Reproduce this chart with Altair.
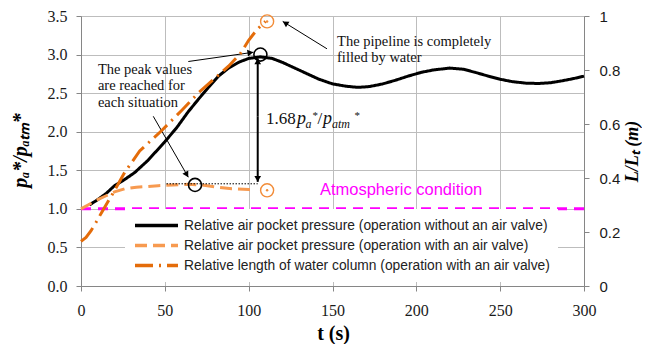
import math
import altair as alt
import pandas as pd

W, H = 503, 270
T_MAX, Y_MAX = 300.0, 3.5

# ---- series data ----
t_noav = [5, 10, 15, 20, 26, 32, 40, 50, 57, 64, 70, 76, 82, 88, 94, 100, 107, 114, 120, 130, 142,
          150, 158, 165, 172, 180, 188, 195, 203, 210, 220, 228, 235, 243, 250, 257, 265, 273, 280,
          287, 294, 300]
p_noav = [1.05, 1.12, 1.20, 1.30, 1.38, 1.47, 1.63, 1.87, 2.05, 2.26, 2.42, 2.575, 2.72, 2.825, 2.90,
          2.95, 2.97, 2.95, 2.90, 2.80, 2.68, 2.62, 2.59, 2.575, 2.585, 2.62, 2.67, 2.72, 2.77, 2.80,
          2.825, 2.81, 2.77, 2.72, 2.68, 2.65, 2.63, 2.625, 2.635, 2.66, 2.69, 2.72]

t_av = [0, 5, 10, 15, 20, 26, 33, 40, 46, 55, 64, 72, 82, 90, 100, 104]
p_av = [1.0, 1.06, 1.12, 1.17, 1.22, 1.26, 1.28, 1.29, 1.30, 1.31, 1.32, 1.31, 1.28, 1.26, 1.25, 1.245]

t_len = [0, 3, 6, 9, 13, 19, 26, 35, 48, 60, 70, 80, 88, 95, 100, 105, 110]
l_len = [0.165, 0.18, 0.205, 0.236, 0.28, 0.343, 0.42, 0.50, 0.575, 0.65, 0.715, 0.77, 0.814, 0.86,
         0.91, 0.95, 0.98]

t_atm = [0, 300]
p_atm = [1.0, 1.0]

names = [
    "Relative air pocket pressure (operation without an air valve)",
    "Relative air pocket pressure (operation with an air valve)",
    "Relative length of water column (operation with an air valve)",
]
colors = ["#000000", "#F79A50", "#E46C0A"]
dashes = [[1, 0], [12, 6], [18, 6, 2, 6]]

# markers
black_circ_t = [107, 68]
black_circ_v = [3.0, 1.31]
orange_circ_t = [111, 111]
orange_circ_v = [3.43, 1.24]

# arrows: (t1, v1) -> (t2, v2) with a head at (t2, v2)
arrow_t1 = [146.7, 64.0, 43.1, 105.4, 105.4]
arrow_v1 = [3.075, 2.91, 2.20, 2.20, 2.20]
arrow_t2 = [120.3, 102.8, 64.0, 105.4, 105.4]
arrow_v2 = [3.43, 3.03, 1.41, 2.95, 1.35]
arrow_w = [1, 1, 1, 2, 2]

dotted_t = [51, 105.4]
dotted_v = [1.325, 1.325]

pipe_text = ["The pipeline is completely", "filled by water"]
pipe_t = [152.7, 152.7]
pipe_v = [3.16, 2.95]

peak_text = ["The peak values", "are reached for", "each situation"]
peak_t = [10.1, 10.1, 10.1]
peak_v = [2.80, 2.59, 2.375]

atm_text = ["Atmospheric condition"]
atm_t = [142.5]
atm_v = [1.25]

ratio_t, ratio_v = 110.3, 2.094
ratio_parts = ["1.68", "p", "a", "*", "/", "p", "atm", "*"]

SERIF = "Liberation Serif"
SANS = "Liberation Sans"

# ---- frames ----
df_left = pd.concat([
    pd.DataFrame({"t": t_noav, "v": p_noav, "series": names[0]}),
    pd.DataFrame({"t": t_av, "v": p_av, "series": names[1]}),
])
df_right = pd.DataFrame({"t": t_len, "v": l_len, "series": names[2]})
df_atm = pd.DataFrame({"t": t_atm, "v": p_atm})


def px(t):
    return t * W / T_MAX


def py(v):
    return (Y_MAX - v) * H / Y_MAX


rows = []
for a, b, c, d, w in zip(arrow_t1, arrow_v1, arrow_t2, arrow_v2, arrow_w):
    dx = px(c) - px(a)
    dy = py(d) - py(b)
    ang = math.degrees(math.atan2(dx, -dy)) % 360
    L = math.hypot(dx, dy)
    back = 3.0
    hx = px(c) - dx / L * back
    hy = py(d) - dy / L * back
    rows.append({"t": a, "v": b, "t2": c, "v2": d, "w": w, "ang": ang,
                 "ht": hx * T_MAX / W, "hv": Y_MAX - hy * Y_MAX / H})
df_arrows = pd.DataFrame(rows)
df_heads = pd.DataFrame({"t": df_arrows["ht"], "v": df_arrows["hv"], "ang": df_arrows["ang"]})

X = alt.X("t:Q", scale=alt.Scale(domain=[0, 300], nice=False),
          axis=alt.Axis(values=[0, 50, 100, 150, 200, 250, 300], title="t (s)", grid=True,
                        labelFlush=False, labelOverlap=False,
                        labelFont=SERIF, labelFontSize=16, labelPadding=11, tickSize=5,
                        titleFont=SERIF, titleFontSize=20, titleFontWeight="bold",
                        titleX=252, titleY=47, titleBaseline="middle"))
YL = alt.Y("v:Q", scale=alt.Scale(domain=[0, 3.5], nice=False),
           axis=alt.Axis(values=[0, 0.5, 1, 1.5, 2, 2.5, 3, 3.5], format=".1f",
                         labelFlush=False, labelOverlap=False,
                         title="pₐ*/pₐₜₘ*", grid=True, labelFont=SERIF, labelFontSize=16,
                         labelPadding=9, tickSize=5, titleFont=SERIF, titleFontSize=20,
                         titleFontStyle="italic", titleFontWeight="bold", titleAngle=270,
                         titleX=-61, titleY=134, titleAlign="center", titleBaseline="middle"))
YR = alt.Y("v:Q", scale=alt.Scale(domain=[0, 1], nice=False),
           axis=alt.Axis(orient="right", values=[0, 0.2, 0.4, 0.6, 0.8, 1], format=".1~f",
                         labelFlush=False, labelOverlap=False,
                         title="L/Lₜ (m)", grid=False, labelFont=SANS, labelFontSize=15,
                         labelPadding=10, tickSize=5, titleFont=SERIF, titleFontSize=18,
                         titleFontStyle="italic", titleFontWeight="bold", titleAngle=270,
                         titleX=48, titleY=135, titleAlign="center", titleBaseline="middle"))

leg = alt.Legend(title=None, orient="none", legendX=44, legendY=193, symbolType="stroke",
                 symbolSize=1850, symbolStrokeWidth=3.5, clipHeight=17, rowPadding=3,
                 labelFont=SANS, labelFontSize=13.8, labelColor="#222222", labelLimit=600,
                 fillColor="white", padding=8, labelOffset=4)
COLOR = alt.Color("series:N", scale=alt.Scale(domain=names, range=colors), legend=leg)
DASH = alt.StrokeDash("series:N", scale=alt.Scale(domain=names, range=dashes), legend=leg)

atm_line = alt.Chart(df_atm).mark_line(color="#FF00FF", strokeWidth=3, strokeDash=[10, 7]).encode(
    x=X, y=YL)
left_lines = alt.Chart(df_left).mark_line(strokeWidth=3).encode(
    x=X, y=YL, color=COLOR, strokeDash=DASH, order="t:Q")

dotted = alt.Chart(pd.DataFrame({"t": dotted_t, "v": dotted_v})).mark_line(
    color="black", strokeWidth=1, strokeDash=[1.5, 1.5]).encode(x=X, y=YL)

arrow_lines = alt.Chart(df_arrows).mark_rule(color="black").encode(
    x=X, y=YL, x2="t2:Q", y2="v2:Q", strokeWidth=alt.StrokeWidth("w:Q", scale=None))
arrow_heads = alt.Chart(df_heads).mark_point(shape="triangle-up", filled=True, color="black",
                                               opacity=1, size=45).encode(
    x=X, y=YL, angle=alt.Angle("ang:Q", scale=None))

bcirc = alt.Chart(pd.DataFrame({"t": black_circ_t, "v": black_circ_v})).mark_point(
    shape="circle", size=170, color="black", strokeWidth=1.6, filled=False, opacity=1).encode(x=X, y=YL)
ocirc = alt.Chart(pd.DataFrame({"t": orange_circ_t, "v": orange_circ_v})).mark_point(
    shape="circle", size=170, color="#F28C38", strokeWidth=1.4, filled=False, opacity=1).encode(x=X, y=YL)
odot = alt.Chart(pd.DataFrame({"t": orange_circ_t, "v": orange_circ_v})).mark_point(
    shape="circle", size=6, color="#F28C38", filled=True, opacity=1).encode(x=X, y=YL)


def text_layer(texts, ts, vs, **kw):
    df = pd.DataFrame({"t": ts, "v": vs, "s": texts})
    return alt.Chart(df).mark_text(**kw).encode(x=X, y=YL, text="s:N")


pipe = text_layer(pipe_text, pipe_t, pipe_v, font=SERIF, fontSize=14.5, align="left",
                  baseline="middle", color="#111111")
peak = text_layer(peak_text, peak_t, peak_v, font=SERIF, fontSize=14.5, align="left",
                  baseline="middle", color="#111111")
atm = text_layer(atm_text, atm_t, atm_v, font=SANS, fontSize=16.5, align="left",
                 baseline="middle", color="#FF00FF")

ratio_style = [
    dict(dx=0, dy=0, fontSize=17, fontStyle="normal"),
    dict(dx=31, dy=0, fontSize=18, fontStyle="italic"),
    dict(dx=39.5, dy=4, fontSize=12, fontStyle="italic"),
    dict(dx=46.5, dy=-5, fontSize=11, fontStyle="normal"),
    dict(dx=51.5, dy=0, fontSize=17, fontStyle="normal"),
    dict(dx=57, dy=0, fontSize=18, fontStyle="italic"),
    dict(dx=66, dy=4, fontSize=12, fontStyle="italic"),
    dict(dx=88.5, dy=-5, fontSize=11, fontStyle="normal"),
]
ratio_layers = [text_layer([s], [ratio_t], [ratio_v], font=SERIF, align="left",
                           baseline="alphabetic", color="#111111", **st)
                for s, st in zip(ratio_parts, ratio_style)]

left = alt.layer(atm_line, left_lines, dotted, arrow_lines, arrow_heads, bcirc, ocirc, odot,
                 pipe, peak, atm, *ratio_layers)
right = alt.Chart(df_right).mark_line(strokeWidth=3).encode(
    x=X, y=YR, color=COLOR, strokeDash=DASH, order="t:Q")

chart = alt.layer(left, right).resolve_scale(y="independent").properties(
    width=W, height=H,
    autosize=alt.AutoSizeParams(type="none"),
    padding={"left": 73, "top": 8, "right": 58, "bottom": 58},
).configure_view(stroke=None).configure_axis(
    domainColor="#868686", tickColor="#868686", gridColor="#BDBDBD", gridWidth=1,
    labelColor="#1a1a1a", titleColor="#000000", domainWidth=1,
)

chart.save("out.html", embed_options={"renderer": "svg", "actions": False})
